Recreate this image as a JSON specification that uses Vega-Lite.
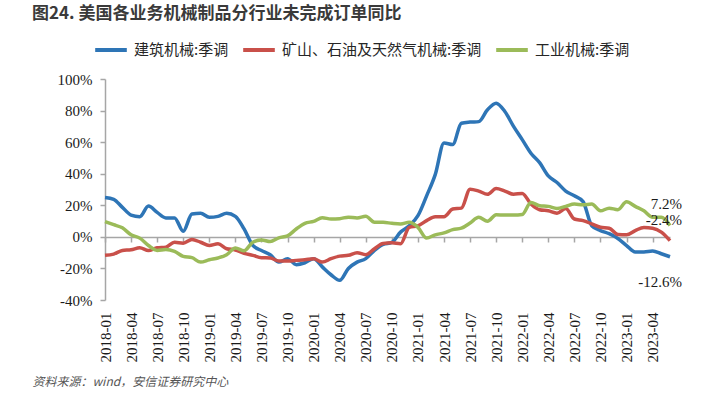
{
  "$schema": "https://vega.github.io/schema/vega-lite/v6.json",
  "width": 565,
  "height": 221,
  "autosize": {"type": "none"},
  "padding": {"left": 105, "top": 79, "right": 39, "bottom": 97},
  "background": "white",
  "config": {"view": {"stroke": null}},
  "title": {
    "text": "图24. 美国各业务机械制品分行业未完成订单同比",
    "anchor": "start",
    "frame": "group",
    "font": "Noto Sans CJK SC",
    "fontSize": 17,
    "fontWeight": "bold",
    "color": "#3a3a3a",
    "dx": -73,
    "offset": 9
  },
  "data": {
    "values": [
      {"date": "2018-01", "construction": 25.0, "mining": -11.7, "industrial": 9.6},
      {"date": "2018-02", "construction": 23.8, "mining": -10.9, "industrial": 7.7},
      {"date": "2018-03", "construction": 18.7, "mining": -8.6, "industrial": 5.7},
      {"date": "2018-04", "construction": 13.8, "mining": -8.2, "industrial": 1.3},
      {"date": "2018-05", "construction": 12.8, "mining": -6.9, "industrial": -0.8},
      {"date": "2018-06", "construction": 19.5, "mining": -8.6, "industrial": -5.5},
      {"date": "2018-07", "construction": 15.5, "mining": -6.9, "industrial": -8.6},
      {"date": "2018-08", "construction": 12.0, "mining": -6.5, "industrial": -8.0},
      {"date": "2018-09", "construction": 12.0, "mining": -3.4, "industrial": -9.2},
      {"date": "2018-10", "construction": 3.6, "mining": -4.0, "industrial": -12.4},
      {"date": "2018-11", "construction": 14.5, "mining": -1.7, "industrial": -13.2},
      {"date": "2018-12", "construction": 15.0, "mining": -3.4, "industrial": -16.0},
      {"date": "2019-01", "construction": 12.4, "mining": -5.5, "industrial": -14.5},
      {"date": "2019-02", "construction": 13.0, "mining": -4.4, "industrial": -13.4},
      {"date": "2019-03", "construction": 15.0, "mining": -7.5, "industrial": -11.3},
      {"date": "2019-04", "construction": 13.0, "mining": -8.3, "industrial": -7.1},
      {"date": "2019-05", "construction": 5.0, "mining": -10.5, "industrial": -8.8},
      {"date": "2019-06", "construction": -5.4, "mining": -11.7, "industrial": -3.4},
      {"date": "2019-07", "construction": -8.6, "mining": -13.2, "industrial": -2.0},
      {"date": "2019-08", "construction": -11.3, "mining": -13.4, "industrial": -3.0},
      {"date": "2019-09", "construction": -16.0, "mining": -15.3, "industrial": -0.6},
      {"date": "2019-10", "construction": -13.8, "mining": -15.3, "industrial": 0.6},
      {"date": "2019-11", "construction": -17.6, "mining": -14.9, "industrial": 5.0},
      {"date": "2019-12", "construction": -16.4, "mining": -14.5, "industrial": 8.6},
      {"date": "2020-01", "construction": -13.8, "mining": -13.8, "industrial": 9.8},
      {"date": "2020-02", "construction": -19.0, "mining": -16.0, "industrial": 12.1},
      {"date": "2020-03", "construction": -24.0, "mining": -13.8, "industrial": 11.3},
      {"date": "2020-04", "construction": -27.5, "mining": -12.2, "industrial": 11.5},
      {"date": "2020-05", "construction": -20.0, "mining": -11.7, "industrial": 12.5},
      {"date": "2020-06", "construction": -16.0, "mining": -10.0, "industrial": 12.0},
      {"date": "2020-07", "construction": -13.8, "mining": -11.3, "industrial": 13.0},
      {"date": "2020-08", "construction": -8.6, "mining": -7.5, "industrial": 9.2},
      {"date": "2020-09", "construction": -4.8, "mining": -4.2, "industrial": 9.2},
      {"date": "2020-10", "construction": -3.5, "mining": -3.8, "industrial": 8.6},
      {"date": "2020-11", "construction": 3.0, "mining": -4.4, "industrial": 8.2},
      {"date": "2020-12", "construction": 7.0, "mining": 6.0, "industrial": 9.2},
      {"date": "2021-01", "construction": 13.4, "mining": 7.0, "industrial": 6.0},
      {"date": "2021-02", "construction": 26.0, "mining": 10.3, "industrial": -0.8},
      {"date": "2021-03", "construction": 39.6, "mining": 12.8, "industrial": 1.3},
      {"date": "2021-04", "construction": 59.5, "mining": 12.8, "industrial": 2.5},
      {"date": "2021-05", "construction": 58.5, "mining": 17.6, "industrial": 4.6},
      {"date": "2021-06", "construction": 72.0, "mining": 18.2, "industrial": 5.5},
      {"date": "2021-07", "construction": 72.7, "mining": 30.2, "industrial": 8.8},
      {"date": "2021-08", "construction": 73.0, "mining": 29.0, "industrial": 12.4},
      {"date": "2021-09", "construction": 80.5, "mining": 27.0, "industrial": 9.9},
      {"date": "2021-10", "construction": 84.7, "mining": 30.6, "industrial": 14.0},
      {"date": "2021-11", "construction": 79.4, "mining": 29.0, "industrial": 13.8},
      {"date": "2021-12", "construction": 70.0, "mining": 27.0, "industrial": 13.8},
      {"date": "2022-01", "construction": 61.6, "mining": 27.5, "industrial": 14.2},
      {"date": "2022-02", "construction": 53.0, "mining": 20.8, "industrial": 21.8},
      {"date": "2022-03", "construction": 47.0, "mining": 17.2, "industrial": 19.7},
      {"date": "2022-04", "construction": 38.6, "mining": 16.5, "industrial": 19.3},
      {"date": "2022-05", "construction": 34.4, "mining": 15.0, "industrial": 18.0},
      {"date": "2022-06", "construction": 29.0, "mining": 18.0, "industrial": 19.3},
      {"date": "2022-07", "construction": 26.0, "mining": 11.3, "industrial": 20.8},
      {"date": "2022-08", "construction": 22.3, "mining": 10.3, "industrial": 20.3},
      {"date": "2022-09", "construction": 7.0, "mining": 8.2, "industrial": 20.8},
      {"date": "2022-10", "construction": 4.0, "mining": 6.1, "industrial": 16.5},
      {"date": "2022-11", "construction": 2.0, "mining": 5.5, "industrial": 18.2},
      {"date": "2022-12", "construction": -1.0, "mining": 1.5, "industrial": 17.2},
      {"date": "2023-01", "construction": -5.5, "mining": 1.3, "industrial": 22.2},
      {"date": "2023-02", "construction": -9.6, "mining": 4.0, "industrial": 19.3},
      {"date": "2023-03", "construction": -9.6, "mining": 6.0, "industrial": 16.5},
      {"date": "2023-04", "construction": -9.0, "mining": 5.5, "industrial": 12.4},
      {"date": "2023-05", "construction": -10.7, "mining": 3.0, "industrial": 12.4},
      {"date": "2023-06", "construction": -12.6, "mining": -2.4, "industrial": 7.2}
    ]
  },
  "transform": [
    {"fold": ["construction", "mining", "industrial"], "as": ["series", "value"]},
    {"calculate": "datum.value + '%'", "as": "label"}
  ],
  "encoding": {
    "x": {
      "field": "date",
      "type": "ordinal",
      "sort": null,
      "scale": {"type": "point", "padding": 0},
      "axis": {
        "values": ["2018-01","2018-04","2018-07","2018-10","2019-01","2019-04","2019-07","2019-10","2020-01","2020-04","2020-07","2020-10","2021-01","2021-04","2021-07","2021-10","2022-01","2022-04","2022-07","2022-10","2023-01","2023-04"],
        "offset": -63,
        "domainColor": "#a6a6a6",
        "domainWidth": 1.5,
        "tickColor": "#a6a6a6",
        "tickWidth": 1.5,
        "tickSize": 5,
        "labelAngle": -90,
        "labelPadding": 70,
        "labelFont": "Liberation Serif",
        "labelFontSize": 15,
        "labelColor": "#1a1a1a",
        "title": "资料来源：wind，安信证券研究中心",
        "titleFont": "Noto Sans CJK SC",
        "titleFontStyle": "italic",
        "titleFontWeight": "normal",
        "titleFontSize": 12,
        "titleColor": "#555555",
        "titleAngle": 0,
        "titleAlign": "left",
        "titleBaseline": "middle",
        "titleX": -73,
        "titleY": 144
      }
    },
    "y": {
      "field": "value",
      "type": "quantitative",
      "scale": {"domain": [-40, 100], "nice": false, "zero": false},
      "axis": {
        "values": [-40, -20, 0, 20, 40, 60, 80, 100],
        "labelExpr": "datum.value + '%'",
        "grid": false,
        "title": null,
        "domainColor": "#a6a6a6",
        "domainWidth": 1.5,
        "tickColor": "#a6a6a6",
        "tickWidth": 1.5,
        "tickSize": 5,
        "labelPadding": 8,
        "labelFont": "Liberation Serif",
        "labelFontSize": 15,
        "labelColor": "#1a1a1a"
      }
    }
  },
  "layer": [
    {
      "mark": {"type": "line", "strokeWidth": 3.5, "interpolate": "monotone"},
      "encoding": {
        "color": {
          "field": "series",
          "type": "nominal",
          "scale": {
            "domain": ["construction", "mining", "industrial"],
            "range": ["#2E75B6", "#C9504A", "#9BBB59"]
          },
          "legend": {
            "orient": "none",
            "direction": "horizontal",
            "legendX": -12,
            "legendY": -47,
            "title": null,
            "symbolType": "stroke",
            "symbolStrokeWidth": 4,
            "symbolSize": 1000,
            "labelFont": "Noto Sans CJK SC",
            "labelFontSize": 15,
            "labelColor": "#262626",
            "labelLimit": 400,
            "labelOffset": 5,
            "columnPadding": 6,
            "labelExpr": "datum.label == 'construction' ? '建筑机械:季调' : datum.label == 'mining' ? '矿山、石油及天然气机械:季调' : '工业机械:季调'"
          }
        }
      }
    },
    {
      "transform": [{"filter": "datum.date == '2023-06' && datum.series == 'industrial'"}],
      "mark": {"type": "text", "align": "right", "baseline": "middle", "dx": 12, "dy": -21, "font": "Liberation Serif", "fontSize": 15, "color": "#1a1a1a"},
      "encoding": {"text": {"field": "label"}}
    },
    {
      "transform": [{"filter": "datum.date == '2023-06' && datum.series == 'mining'"}],
      "mark": {"type": "text", "align": "right", "baseline": "middle", "dx": 12, "dy": -21, "font": "Liberation Serif", "fontSize": 15, "color": "#1a1a1a"},
      "encoding": {"text": {"field": "label"}}
    },
    {
      "transform": [{"filter": "datum.date == '2023-06' && datum.series == 'construction'"}],
      "mark": {"type": "text", "align": "right", "baseline": "middle", "dx": 12, "dy": 25, "font": "Liberation Serif", "fontSize": 15, "color": "#1a1a1a"},
      "encoding": {"text": {"field": "label"}}
    }
  ]
}
